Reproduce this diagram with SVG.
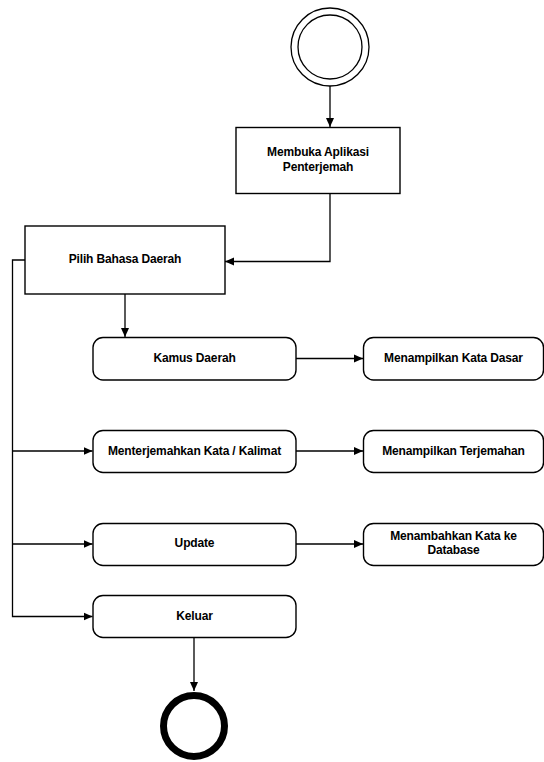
<svg xmlns="http://www.w3.org/2000/svg" width="544" height="762" viewBox="0 0 544 762">
<style>
.box{fill:#fff;stroke:#000;stroke-width:1.4}
.t{font-family:"Liberation Sans",Arial,sans-serif;font-size:12px;font-weight:bold;text-anchor:middle;fill:#000;letter-spacing:-0.15px}
.c{fill:none;stroke:#000;stroke-width:1.3}
</style>
<defs>
<marker id="ah" markerWidth="10" markerHeight="10" refX="9" refY="5" orient="auto" markerUnits="userSpaceOnUse">
<path d="M0,1 L9,5 L0,9 Z" fill="#000"/>
</marker>
</defs>
<rect width="544" height="762" fill="#fff"/>
<g id="connectors">
<path class="c" d="M330,86 V127" marker-end="url(#ah)"/>
<path class="c" d="M330,193 V261.5 H225" marker-end="url(#ah)"/>
<path class="c" d="M125,294 V337" marker-end="url(#ah)"/>
<path class="c" d="M25,260 H12.5 V616.5 H92.5" marker-end="url(#ah)"/>
<path class="c" d="M12.5,451 H92.5" marker-end="url(#ah)"/>
<path class="c" d="M12.5,544 H92.5" marker-end="url(#ah)"/>
<path class="c" d="M296,358.5 H363" marker-end="url(#ah)"/>
<path class="c" d="M296,451 H363" marker-end="url(#ah)"/>
<path class="c" d="M296,544 H363" marker-end="url(#ah)"/>
<path class="c" d="M194,637 V691" marker-end="url(#ah)"/>
</g>
<g id="start">
<circle cx="330" cy="47" r="39" fill="#fff" stroke="#000" stroke-width="1.3"/>
<circle cx="330" cy="47" r="32" fill="#fff" stroke="#000" stroke-width="1.3"/>
</g>
<g id="n_membuka">
<rect class="box" x="236" y="127.5" width="164" height="66"/>
<text class="t" x="318" y="156">Membuka Aplikasi</text>
<text class="t" x="318" y="171">Penterjemah</text>
</g>
<g id="n_pilih">
<rect class="box" x="25" y="226" width="200" height="68"/>
<text class="t" x="125" y="263">Pilih Bahasa Daerah</text>
</g>
<g id="n_kamus">
<rect class="box" x="93" y="337.5" width="203" height="42.5" rx="10"/>
<text class="t" x="194.5" y="362">Kamus Daerah</text>
</g>
<g id="n_katadasar">
<rect class="box" x="363.5" y="337.5" width="180" height="42.5" rx="10"/>
<text class="t" x="453.5" y="362">Menampilkan Kata Dasar</text>
</g>
<g id="n_menterjemahkan">
<rect class="box" x="93" y="430.5" width="203" height="42" rx="10"/>
<text class="t" x="194.5" y="455">Menterjemahkan Kata / Kalimat</text>
</g>
<g id="n_terjemahan">
<rect class="box" x="363.5" y="430.5" width="180" height="42" rx="10"/>
<text class="t" x="453.5" y="455">Menampilkan Terjemahan</text>
</g>
<g id="n_update">
<rect class="box" x="93" y="523.5" width="203" height="42" rx="10"/>
<text class="t" x="194.5" y="547">Update</text>
</g>
<g id="n_menambahkan">
<rect class="box" x="363.5" y="523.5" width="180" height="42" rx="10"/>
<text class="t" x="453.5" y="540">Menambahkan Kata ke</text>
<text class="t" x="453.5" y="554">Database</text>
</g>
<g id="n_keluar">
<rect class="box" x="93" y="595.5" width="203" height="42" rx="10"/>
<text class="t" x="194.5" y="620">Keluar</text>
</g>
<g id="end">
<circle cx="194" cy="726" r="30.5" fill="#fff" stroke="#000" stroke-width="7"/>
</g>
</svg>
